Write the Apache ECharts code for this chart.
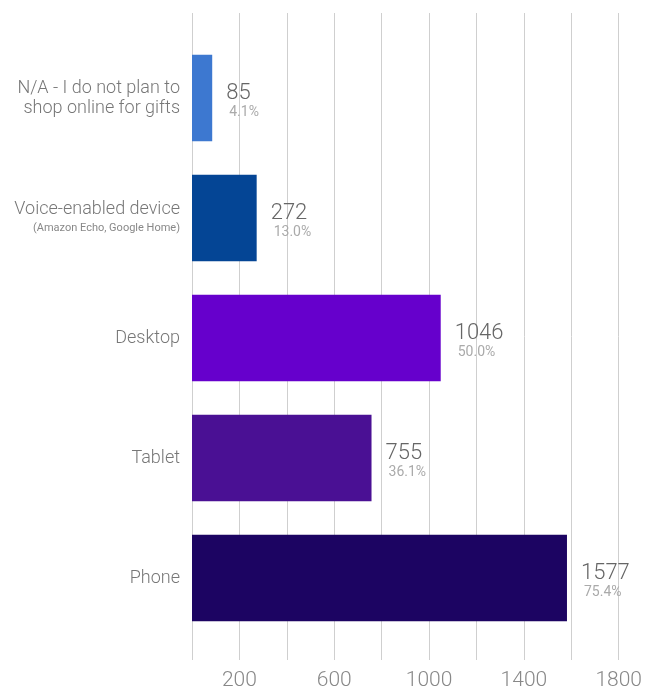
<!DOCTYPE html>
<html>
<head>
<meta charset="utf-8">
<script src="https://cdn.jsdelivr.net/npm/echarts@6/dist/echarts.min.js"></script>
<style>
  html, body { margin: 0; padding: 0; background: #fff; }
  #main { width: 645px; height: 691px; }
</style>
</head>
<body>
<div id="main"></div>
<script>
// top to bottom
var categories = ['na', 'voice', 'desktop', 'tablet', 'phone']
var counts = [85, 272, 1046, 755, 1577]
var shares = ['4.1%', '13.0%', '50.0%', '36.1%', '75.4%']
var barColors = ['#3d78d0', '#044595', '#6600cc', '#4a1094', '#1c0462']
var xTicks = [200, 600, 1000, 1400, 1800]

var myChart = echarts.init(document.getElementById('main'))

var font = 'Roboto, sans-serif'

var option = {
  animation: false,
  grid: [
    // background grid lines (taller than the bars)
    { left: 192, right: 25, top: 13, bottom: 28 },
    // bars
    { left: 192, right: 25, top: 38, bottom: 53 }
  ],
  xAxis: [
    {
      gridIndex: 0,
      type: 'value',
      min: 0,
      max: 1800,
      interval: 200,
      axisLine: { show: false },
      axisTick: { show: false },
      splitLine: { show: true, lineStyle: { color: '#cfcfcf', width: 1 } },
      axisLabel: {
        margin: 10,
        color: '#888',
        fontFamily: font,
        fontSize: 21,
        fontWeight: 300,
        showMinLabel: true,
        showMaxLabel: true,
        formatter: function (v) {
          return xTicks.indexOf(v) >= 0 ? String(v) : ''
        }
      }
    },
    {
      gridIndex: 1,
      type: 'value',
      min: 0,
      max: 1800,
      show: false
    }
  ],
  yAxis: [
    {
      gridIndex: 0,
      type: 'category',
      data: categories,
      show: false
    },
    {
      gridIndex: 1,
      type: 'category',
      data: categories,
      inverse: true,
      axisLine: { show: false },
      axisTick: { show: false },
      splitLine: { show: false },
      axisLabel: {
        margin: 12,
        align: 'right',
        fontFamily: font,
        formatter: function (v) {
          if (v === 'na') return '{m|N/A - I do not plan to}\n{m|shop online for gifts}'
          if (v === 'voice') return '{m|Voice-enabled device}\n{s|(Amazon Echo, Google Home)}'
          if (v === 'desktop') return '{m|Desktop}'
          if (v === 'tablet') return '{m|Tablet}'
          return '{m|Phone}'
        },
        rich: {
          m: { fontSize: 18, fontWeight: 300, color: '#777', fontFamily: font, lineHeight: 20, align: 'right' },
          s: { fontSize: 11, color: '#888', fontFamily: font, lineHeight: 17, align: 'right' }
        }
      }
    }
  ],
  series: [
    {
      type: 'bar',
      xAxisIndex: 1,
      yAxisIndex: 1,
      barCategoryGap: '28%',
      data: counts.map(function (v, i) {
        return { value: v, itemStyle: { color: barColors[i] } }
      }),
      label: {
        show: true,
        position: 'right',
        distance: 14,
        align: 'left',
        offset: [0, 3],
        formatter: function (p) {
          return '{a|' + p.value + '}\n{b|' + shares[p.dataIndex] + '}'
        },
        rich: {
          a: { fontSize: 22, fontWeight: 300, color: '#666', fontFamily: font, lineHeight: 22 },
          b: { fontSize: 14, color: '#aaa', fontFamily: font, lineHeight: 16, padding: [0, 0, 0, 3] }
        }
      }
    }
  ]
}

myChart.setOption(option)
</script>
</body>
</html>
